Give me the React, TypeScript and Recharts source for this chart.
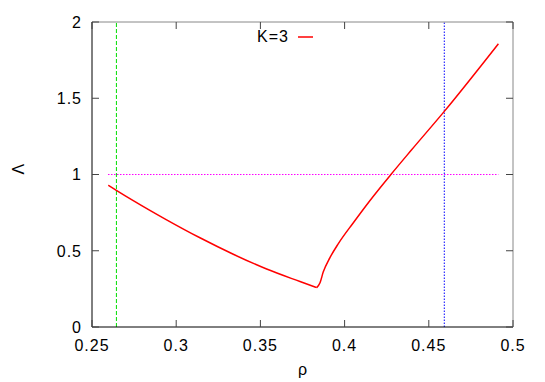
import React from "react";
import {
  LineChart,
  Line,
  XAxis,
  YAxis,
  ReferenceLine,
  Legend,
} from "recharts";

// K=3 curve; two branches meeting at the sharp minimum
const leftRho = [0.2597, 0.2647, 0.2745, 0.2943, 0.3141, 0.3339, 0.3537, 0.3735, 0.3834];
const leftLambda = [0.93, 0.895, 0.829, 0.703, 0.585, 0.477, 0.38, 0.298, 0.258];
const rightRho = [
  0.3834, 0.3854, 0.3873, 0.3913, 0.3963, 0.4052, 0.4151, 0.4275, 0.4398, 0.4592, 0.4913,
];
const rightLambda = [0.258, 0.29, 0.36, 0.455, 0.547, 0.684, 0.83, 1.0, 1.162, 1.414, 1.857];

// horizontal marker at Lambda = 1
const levelRho = [0.2595, 0.4913];
const levelValue = [1, 1];

// vertical markers
const greenRho = 0.2645;
const blueRho = 0.4592;

const xTicks = [0.25, 0.3, 0.35, 0.4, 0.45, 0.5];
const yTicks = [0, 0.5, 1, 1.5, 2];

const leftData = leftRho.map((r, i) => ({ rho: r, lambda: leftLambda[i] }));
const rightData = rightRho.map((r, i) => ({ rho: r, lambda: rightLambda[i] }));
const levelData = levelRho.map((r, i) => ({ rho: r, level: levelValue[i] }));

const FONT = "'Liberation Sans', Arial, sans-serif";
const TICK_LEN = 7;
const X_GAP = 13; // axis line to top of x labels
const Y_GAP = 10; // axis line to right end of y labels
const textStyle = { fontSize: 16, fill: "#000", fontFamily: FONT, letterSpacing: 1 };

// gnuplot style: ticks point into the plot, labels stay outside
const bottomTick = (p: any) => {
  const axisY = p.y - X_GAP;
  return (
    <g>
      <line x1={p.x} x2={p.x} y1={axisY} y2={axisY - TICK_LEN} stroke="#444" />
      <text x={p.x} y={p.y} dy="0.71em" textAnchor="middle" style={textStyle}>
        {String(p.payload.value)}
      </text>
    </g>
  );
};

const leftTick = (p: any) => {
  const axisX = p.x + Y_GAP;
  return (
    <g>
      <line x1={axisX} x2={axisX + TICK_LEN} y1={p.y} y2={p.y} stroke="#444" />
      <text x={p.x} y={p.y} dy="0.36em" textAnchor="end" style={textStyle}>
        {String(p.payload.value)}
      </text>
    </g>
  );
};

const topTick = (p: any) => (
  <line x1={p.x} x2={p.x} y1={p.y} y2={p.y + TICK_LEN} stroke="#444" />
);

const rightTick = (p: any) => (
  <line x1={p.x} x2={p.x - TICK_LEN} y1={p.y} y2={p.y} stroke="#444" />
);

function KeyBox() {
  return (
    <div
      style={{
        display: "flex",
        alignItems: "center",
        fontFamily: FONT,
        fontSize: 16,
        letterSpacing: 1,
        color: "#000",
      }}
    >
      <span>K=3</span>
      <svg width={26} height={10} style={{ marginLeft: 9 }}>
        <line x1={0} y1={5} x2={15} y2={5} stroke="#ff0000" strokeWidth={1.5} />
      </svg>
    </div>
  );
}

export default function App() {
  return (
    <div style={{ position: "absolute", left: 0, top: 0, background: "#fff" }}>
      <LineChart
        width={545}
        height={382}
        margin={{ top: 21, right: 31, bottom: 25, left: 32 }}
      >
        <XAxis
          dataKey="rho"
          type="number"
          domain={[0.25, 0.5]}
          ticks={xTicks}
          allowDataOverflow
          height={30}
          stroke="#000"
          tickLine={false}
          tickSize={0}
          tickMargin={X_GAP}
          tick={bottomTick}
          label={{
            value: "ρ",
            position: "insideBottom",
            offset: -18,
            style: { fontSize: 16, fill: "#000", fontFamily: FONT },
          }}
        />
        <XAxis
          xAxisId="top"
          orientation="top"
          dataKey="rho"
          type="number"
          domain={[0.25, 0.5]}
          ticks={xTicks}
          allowDataOverflow
          height={1}
          stroke="#888"
          tickLine={false}
          tickSize={0}
          tickMargin={0}
          tick={topTick}
        />
        <YAxis
          type="number"
          domain={[0, 2]}
          ticks={yTicks}
          allowDataOverflow
          width={60}
          stroke="#000"
          tickLine={false}
          tickSize={0}
          tickMargin={Y_GAP}
          tick={leftTick}
          label={{
            value: "Λ",
            angle: -90,
            position: "insideLeft",
            offset: -14,
            style: { fontSize: 16, fill: "#000", fontFamily: FONT },
          }}
        />
        <YAxis
          yAxisId="right"
          orientation="right"
          type="number"
          domain={[0, 2]}
          ticks={yTicks}
          allowDataOverflow
          width={1}
          stroke="#888"
          tickLine={false}
          tickSize={0}
          tickMargin={0}
          tick={rightTick}
        />
        <Legend
          layout="vertical"
          verticalAlign="middle"
          align="center"
          content={() => <KeyBox />}
          wrapperStyle={{ top: 28, left: 257, width: "auto" }}
        />
        <ReferenceLine
          x={greenRho}
          stroke="#00dd00"
          strokeDasharray="4 2"
          strokeWidth={1}
        />
        <ReferenceLine
          x={blueRho}
          stroke="#0000ff"
          strokeDasharray="1.5 1.5"
          strokeWidth={1}
        />
        <Line
          data={levelData}
          dataKey="level"
          type="linear"
          stroke="#ff00ff"
          strokeDasharray="1.5 1.5"
          strokeWidth={1}
          dot={false}
          isAnimationActive={false}
          legendType="none"
        />
        <Line
          data={leftData}
          dataKey="lambda"
          type="monotone"
          stroke="#ff0000"
          strokeWidth={1.5}
          dot={false}
          isAnimationActive={false}
        />
        <Line
          data={rightData}
          dataKey="lambda"
          type="monotone"
          stroke="#ff0000"
          strokeWidth={1.5}
          dot={false}
          isAnimationActive={false}
          legendType="none"
        />
      </LineChart>
    </div>
  );
}
